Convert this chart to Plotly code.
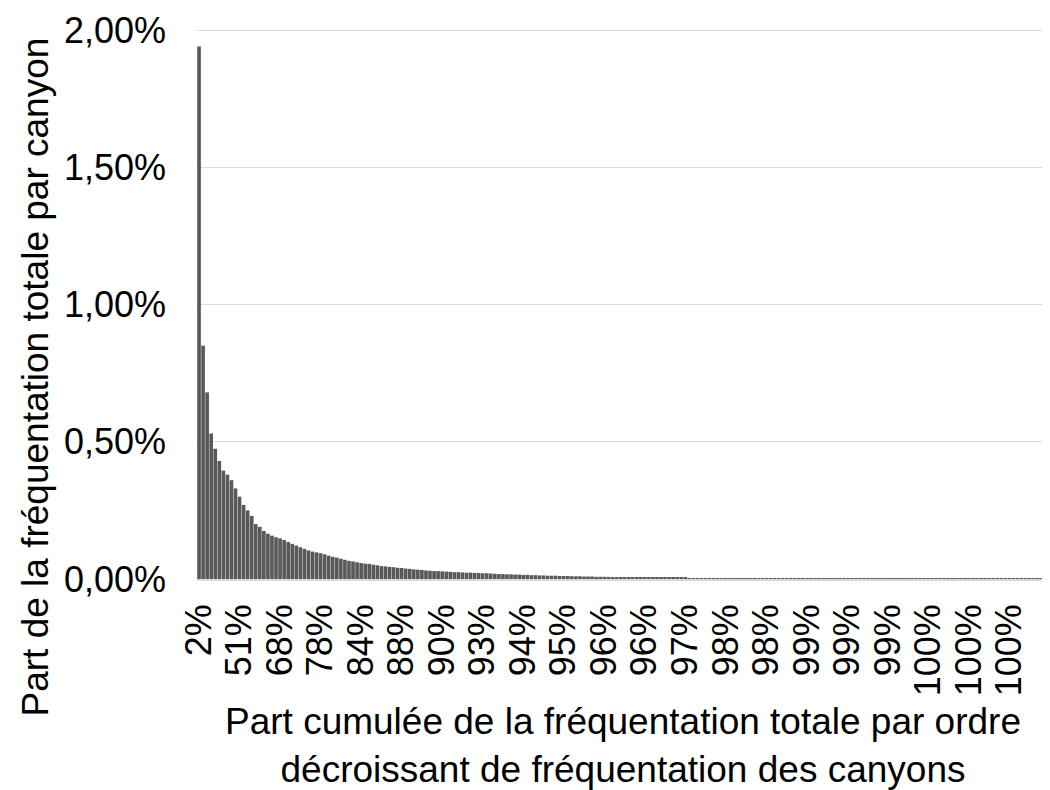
import plotly.graph_objects as go

# share of total attendance per canyon (%), canyons sorted by decreasing attendance
shares = [
    1.94, 0.85, 0.68, 0.53, 0.475, 0.43, 0.395, 0.38, 0.36, 0.33,
    0.30, 0.27, 0.25, 0.23, 0.20, 0.19, 0.175, 0.165, 0.158, 0.152,
    0.148, 0.142, 0.135, 0.128, 0.122, 0.116, 0.110, 0.104, 0.100, 0.097,
    0.094, 0.090, 0.085, 0.081, 0.078, 0.074, 0.070, 0.066, 0.064, 0.061,
    0.058, 0.056, 0.055, 0.052, 0.050, 0.047, 0.046, 0.044, 0.043, 0.041,
    0.040, 0.038, 0.037, 0.035, 0.034, 0.033, 0.031, 0.030, 0.029, 0.029,
    0.028, 0.027, 0.026, 0.025, 0.025, 0.024, 0.023, 0.023, 0.022, 0.022,
    0.021, 0.021, 0.020, 0.019, 0.018, 0.018, 0.017, 0.017, 0.016, 0.016,
    0.015, 0.015, 0.014, 0.014, 0.013, 0.013, 0.012, 0.012, 0.012, 0.011,
    0.011, 0.011, 0.010, 0.010, 0.010, 0.009, 0.009, 0.009, 0.008, 0.008,
    0.008, 0.008, 0.007, 0.007, 0.007, 0.007, 0.006, 0.006, 0.006, 0.006,
    0.005, 0.005, 0.005, 0.005, 0.005, 0.004, 0.004, 0.004, 0.004, 0.004,
    0.004, 0.003, 0.003, 0.003, 0.003, 0.003, 0.003, 0.0025, 0.0025, 0.0025,
    0.0025, 0.002, 0.002, 0.002, 0.002, 0.002, 0.002, 0.0015, 0.0015, 0.0015,
    0.0015, 0.0012, 0.0012, 0.0012, 0.001, 0.001, 0.001, 0.001, 0.0008, 0.0006,
    0.0005, 0.0004, 0.0004, 0.0004, 0.0004, 0.0004, 0.0004, 0.0003, 0.0003, 0.0003,
    0.0003, 0.0003, 0.0003, 0.0003, 0.0003, 0.0002, 0.0002, 0.0002, 0.0002, 0.0002,
    0.0002, 0.0002, 0.0002, 0.0002, 0.0002, 0.0002, 0.0002, 0.0002, 0.0001, 0.0001,
    0.0001, 0.0001, 0.0001, 0.0001, 0.0001, 0.0001, 0.0001, 0.0001, 0.0001, 0.0001,
    0.0001, 0.0001, 0.0001, 0.0001, 0.0001, 0.0001, 0.0001, 0.0001, 0.0001, 0.0001,
    0.0001, 0.0001, 0.0001, 0.0001, 0.0001, 0.0001, 0.0001, 0.0001, 0.0001, 0.0001,
]

# cumulative share labels shown every few canyons on the x axis
cum_labels = [
    "2%", "51%", "68%", "78%", "84%", "88%", "90%", "93%", "94%", "95%",
    "96%", "96%", "97%", "98%", "98%", "99%", "99%", "99%", "100%", "100%", "100%",
]
label_every = 10

# y axis ticks
y_ticks = [0, 0.5, 1, 1.5, 2]
y_labels = ["0,00%", "0,50%", "1,00%", "1,50%", "2,00%"]

FONT = "Liberation Sans, Arial, sans-serif"

x = list(range(len(shares)))

fig = go.Figure()
fig.add_trace(go.Bar(x=x, y=shares, marker_color="#595959", marker_line_width=0))

# the page body adds an 8px margin, so the figure is 8px smaller on each axis
fig.update_layout(
    width=1042, height=782,
    margin=dict(l=189, r=2, t=17, b=211),
    plot_bgcolor="white", paper_bgcolor="white",
    bargap=0.1,
    showlegend=False,
    font=dict(family=FONT, size=36, color="black"),
)

fig.update_xaxes(
    range=[-0.5, len(shares) - 0.5],
    tickmode="array",
    tickvals=[i * label_every for i in range(len(cum_labels))],
    ticktext=cum_labels,
    tickangle=-90,
    ticks="",
    ticklabelstandoff=9,
    showgrid=False, zeroline=False,
    showline=True, linecolor="#d9d9d9", linewidth=1.5,
    tickfont=dict(family=FONT, size=36, color="black"),
)

fig.update_yaxes(
    range=[0, 2.004],
    tickmode="array",
    tickvals=y_ticks,
    ticktext=y_labels,
    ticks="",
    ticklabelstandoff=30,
    ticklabeloverflow="allow",
    showgrid=True, gridcolor="#d9d9d9", gridwidth=1.3,
    zeroline=False, showline=False,
    tickfont=dict(family=FONT, size=36, color="black"),
)

fig.add_annotation(
    text="Part de la fréquentation totale par canyon",
    xref="paper", yref="paper", x=-0.19, y=0.367,
    xanchor="center", yanchor="middle", textangle=-90, showarrow=False,
    font=dict(family=FONT, size=37, color="black"),
)
fig.add_annotation(
    text="Part cumulée de la fréquentation totale par ordre<br>décroissant de fréquentation des canyons",
    xref="paper", yref="paper", x=0.5, y=-0.303,
    xanchor="center", yanchor="middle", showarrow=False,
    font=dict(family=FONT, size=37, color="black"),
)

fig.write_html("out.html")
